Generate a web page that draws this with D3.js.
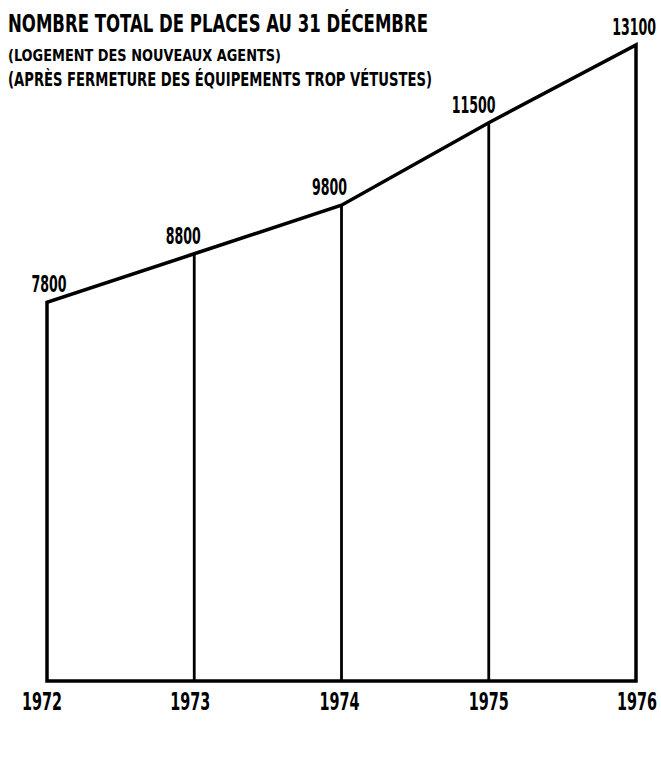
<!DOCTYPE html>
<html>
<head>
<meta charset="utf-8">
<script src="https://d3js.org/d3.v7.min.js"></script>
<style>
  body { margin: 0; background: #fff; }
  text { font-family: "DejaVu Sans Condensed", "Liberation Sans Narrow", "DejaVu Sans", sans-serif; font-weight: bold; fill: #000; }
</style>
</head>
<body>
<svg width="661" height="762"></svg>
<script>
var years = [1972, 1973, 1974, 1975, 1976];
var places = [7800, 8800, 9800, 11500, 13100];
var valueLabels = ["7800", "8800", "9800", "11500", "13100"];
var titleLines = [
  "NOMBRE TOTAL DE PLACES AU 31 DÉCEMBRE",
  "(LOGEMENT DES NOUVEAUX AGENTS)",
  "(APRÈS FERMETURE DES ÉQUIPEMENTS TROP VÉTUSTES)"
];

var svg = d3.select("svg");

var x = d3.scaleLinear().domain([1972, 1976]).range([47, 636]);
var y = d3.scaleLinear().domain([0, 13100]).range([681, 45]);

var data = years.map(function(d, i) { return [d, places[i]]; });

// outline: up the left side, along the top, down the right, back along the bottom
var outline = [[1972, 0]].concat(data).concat([[1976, 0]]);
var line = d3.line()
    .x(function(d) { return x(d[0]); })
    .y(function(d) { return y(d[1]); });

svg.append("path")
    .attr("d", line(outline) + "Z")
    .style("fill", "none")
    .style("stroke", "#000")
    .style("stroke-width", 3.5)
    .style("stroke-linejoin", "miter");

// inner verticals
svg.append("g")
  .selectAll("line")
  .data(data.slice(1, -1))
  .enter()
  .append("line")
    .attr("x1", function(d) { return x(d[0]); })
    .attr("x2", function(d) { return x(d[0]); })
    .attr("y1", function(d) { return y(d[1]); })
    .attr("y2", y(0))
    .style("stroke", "#000")
    .style("stroke-width", 2.8);

// draws a condensed label: natural width set by font size, then stretched vertically
function label(g, tx, ty, str, size, stretch, anchor) {
  g.append("text")
      .attr("transform", "translate(" + tx + "," + ty + ") scale(1," + stretch + ")")
      .attr("text-anchor", anchor)
      .style("font-size", size + "px")
      .text(str);
}

// value labels
var labelDx = [2, -11, -12, -15, 20];
var gv = svg.append("g");
data.forEach(function(d, i) {
  var anchor = i === data.length - 1 ? "end" : "middle";
  label(gv, x(d[0]) + labelDx[i], y(d[1]) - 10, valueLabels[i], 14, 1.6, anchor);
});

// year labels
var yearDx = [-5, -4, -2, 0, 21];
var gy = svg.append("g");
years.forEach(function(d, i) {
  var anchor = i === years.length - 1 ? "end" : "middle";
  label(gy, x(d) + yearDx[i], 710, d, 16, 1.5, anchor);
});

// title block
var titleY = [32, 61, 86];
var titleW = [420, 273, 424];
var titleSize = [25, 16, 19];
svg.append("g")
  .selectAll("text")
  .data(titleLines)
  .enter()
  .append("text")
    .attr("x", 8)
    .attr("y", function(d, i) { return titleY[i]; })
    .attr("textLength", function(d, i) { return titleW[i]; })
    .attr("lengthAdjust", "spacingAndGlyphs")
    .style("font-size", function(d, i) { return titleSize[i] + "px"; })
    .text(function(d) { return d; });
</script>
</body>
</html>
